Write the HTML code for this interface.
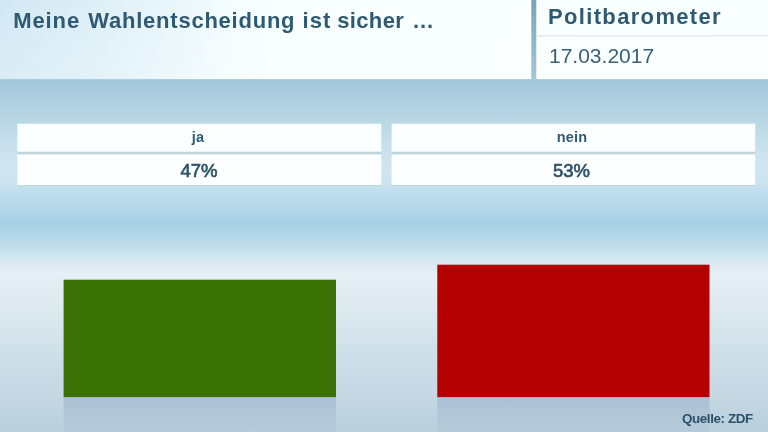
<!DOCTYPE html>
<html lang="de">
<head>
<meta charset="utf-8">
<title>Politbarometer</title>
<style>
html,body{margin:0;padding:0;}
body{width:768px;height:432px;overflow:hidden;position:relative;font-family:"Liberation Sans",sans-serif;color:#2f5a73;background:#c9dde9;}
.abs{position:absolute;}
.t{will-change:transform;}
#bg{left:0;top:0;width:768px;height:432px;display:block;}
#title{left:0;top:8px;width:530px;height:26px;font-size:22px;font-weight:bold;white-space:nowrap;line-height:26px;}
#title span{position:absolute;top:0;}
#brand{left:548px;top:4px;font-size:22px;font-weight:bold;white-space:nowrap;line-height:26px;letter-spacing:1.34px;}
#date{left:549px;top:43px;font-size:21px;white-space:nowrap;line-height:26px;color:#3a6078;}
.box{text-align:center;white-space:nowrap;}
.lab{font-size:14.5px;font-weight:bold;line-height:26px;height:27px;letter-spacing:0.15px;}
.val{font-size:18.5px;font-weight:normal;-webkit-text-stroke:0.65px #2e5268;color:#2e5268;line-height:33px;height:31px;letter-spacing:0px;}
#src{right:15px;top:411px;font-size:13.4px;font-weight:bold;line-height:16px;white-space:nowrap;letter-spacing:-0.39px;color:#29506a;}
</style>
</head>
<body>
<svg class="abs" id="bg" width="768" height="432" viewBox="0 0 768 432">
  <defs>
    <linearGradient id="gHead" x1="0" y1="0" x2="1" y2="0">
      <stop offset="0" stop-color="#d3e8f4"/>
      <stop offset="0.11" stop-color="#dceef6"/>
      <stop offset="0.22" stop-color="#e9f6fa"/>
      <stop offset="0.30" stop-color="#f4fcfe"/>
      <stop offset="0.36" stop-color="#f9ffff"/>
      <stop offset="1" stop-color="#faffff"/>
    </linearGradient>
    <linearGradient id="gHeadV" x1="0" y1="0" x2="0" y2="1">
      <stop offset="0" stop-color="#ffffff" stop-opacity="0"/>
      <stop offset="1" stop-color="#ffffff" stop-opacity="0.2"/>
    </linearGradient>
    <linearGradient id="gSky" gradientUnits="userSpaceOnUse" x1="0" y1="79" x2="0" y2="272">
      <stop offset="0.0000" stop-color="#a2c5d9"/>
      <stop offset="0.1088" stop-color="#aecfe0"/>
      <stop offset="0.2332" stop-color="#bbd8e6"/>
      <stop offset="0.3161" stop-color="#c4dfea"/>
      <stop offset="0.3886" stop-color="#cce2ef"/>
      <stop offset="0.4715" stop-color="#cfe5f0"/>
      <stop offset="0.5337" stop-color="#cbe3ef"/>
      <stop offset="0.5803" stop-color="#c1dff0"/>
      <stop offset="0.6632" stop-color="#b5d8ea"/>
      <stop offset="0.7461" stop-color="#a6cfe5"/>
      <stop offset="0.8083" stop-color="#b2d7e9"/>
      <stop offset="0.8756" stop-color="#c2ddec"/>
      <stop offset="0.9171" stop-color="#cfe5ef"/>
      <stop offset="0.9689" stop-color="#e0eaf3"/>
      <stop offset="0.9974" stop-color="#e4ecf4"/>
      <stop offset="1.0000" stop-color="#e5f0f6"/>
    </linearGradient>
    <linearGradient id="gFloor" gradientUnits="userSpaceOnUse" x1="0" y1="272" x2="0" y2="432">
      <stop offset="0.0000" stop-color="#e5f1f7"/>
      <stop offset="0.1750" stop-color="#e0ebf1"/>
      <stop offset="0.3625" stop-color="#d6e5ec"/>
      <stop offset="0.5500" stop-color="#cddee8"/>
      <stop offset="0.7812" stop-color="#c4d7e3"/>
      <stop offset="1.0000" stop-color="#b9cfdc"/>
    </linearGradient>
    <linearGradient id="gRefl" gradientUnits="userSpaceOnUse" x1="0" y1="397" x2="0" y2="432">
      <stop offset="0" stop-color="#abc0d3"/>
      <stop offset="1" stop-color="#b6ccda"/>
    </linearGradient>
    <linearGradient id="gDiv" x1="0" y1="0" x2="0" y2="1">
      <stop offset="0" stop-color="#79a5b8"/>
      <stop offset="1" stop-color="#a8c6d6"/>
    </linearGradient>
  </defs>
  <rect x="0" y="78" width="768" height="194" fill="url(#gSky)"/>
  <rect x="0" y="0" width="768" height="79.15" fill="url(#gHead)"/>
  <rect x="0" y="0" width="768" height="79.15" fill="url(#gHeadV)"/>
  <rect x="0" y="272" width="768" height="160" fill="url(#gFloor)"/>
  <rect x="531.3" y="0" width="5" height="79.15" fill="url(#gDiv)"/>
  <rect x="536.3" y="35.1" width="231.7" height="1.4" fill="#e2e9ed"/>
  <!-- result boxes -->
  <rect x="17.3" y="150" width="364" height="4.6" fill="#bfd3dd"/>
  <rect x="391.6" y="150" width="363.6" height="4.6" fill="#bfd3dd"/>
  <rect x="17.3" y="183" width="364" height="3.2" fill="#c4d7e0"/>
  <rect x="391.6" y="183" width="363.6" height="3.2" fill="#c4d7e0"/>
  <rect x="17.3" y="123.7" width="364" height="28" fill="#fbffff"/>
  <rect x="17.3" y="154.4" width="364" height="30.6" fill="#fbffff"/>
  <rect x="391.6" y="123.7" width="363.6" height="28" fill="#fbffff"/>
  <rect x="391.6" y="154.4" width="363.6" height="30.6" fill="#fbffff"/>
  <!-- reflections -->
  <rect x="63.6" y="397" width="272.4" height="35" fill="url(#gRefl)"/>
  <rect x="437.3" y="397" width="272.2" height="35" fill="url(#gRefl)"/>
  <!-- bars -->
  <rect x="63.6" y="279.7" width="272.4" height="117.4" fill="#3a7205"/>
  <rect x="437.3" y="264.7" width="272.2" height="132.4" fill="#b30000"/>
</svg>
<div class="abs t" id="title"><span style="left:13.3px;letter-spacing:0.875px">Meine</span> <span style="left:88.3px;letter-spacing:0.767px">Wahlentscheidung</span> <span style="left:302.5px;letter-spacing:1.1px">ist</span> <span style="left:337.2px;letter-spacing:0.36px">sicher</span> <span style="left:413px;letter-spacing:0.85px">...</span></div>
<div class="abs t" id="brand">Politbarometer</div>
<div class="abs t" id="date">17.03.2017</div>
<div class="abs t box lab" style="left:17.5px;top:124px;width:364px;text-indent:-4px;">ja</div>
<div class="abs t box val" style="left:17.5px;top:154px;width:364px;text-indent:-2px;">47%</div>
<div class="abs t box lab" style="left:391px;top:124px;width:364px;text-indent:-2px;">nein</div>
<div class="abs t box val" style="left:391px;top:154px;width:364px;text-indent:-3px;">53%</div>
<div class="abs t" id="src">Quelle: ZDF</div>
</body>
</html>
